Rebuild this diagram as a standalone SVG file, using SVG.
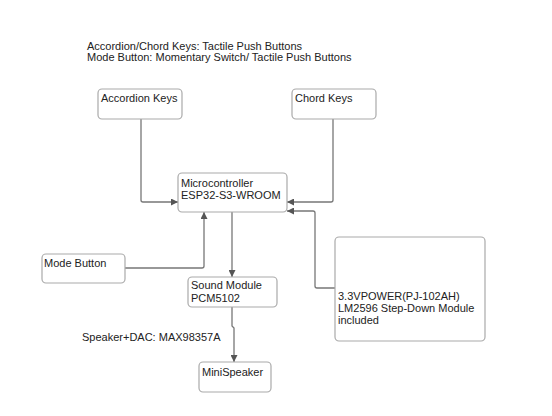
<svg xmlns="http://www.w3.org/2000/svg" width="552" height="416" viewBox="0 0 552 416">
<defs>
<marker id="arr" viewBox="0 0 10 10" refX="10" refY="5" markerWidth="7" markerHeight="7" markerUnits="userSpaceOnUse" orient="auto">
<path d="M0,0 L10,5 L0,10 z" fill="#555"/>
</marker>
<style>
.box{fill:#fff;stroke:#aaa;stroke-width:1.2}
.t{font-family:"Liberation Sans",Arial,sans-serif;font-size:11px;fill:#222}
.c{fill:none;stroke:#777;stroke-width:1.3;marker-end:url(#arr)}
</style>
</defs>
<rect width="552" height="416" fill="#fff"/>
<g id="notes">
<text class="t" x="87" y="50">Accordion/Chord Keys: Tactile Push Buttons</text>
<text class="t" x="87" y="61">Mode Button: Momentary Switch/ Tactile Push Buttons</text>
<text class="t" x="82" y="341">Speaker+DAC: MAX98357A</text>
</g>
<g id="connectors">
<path class="c" d="M141,119 V200 Q141,202 143,202 H178"/>
<path class="c" d="M333,119 V200 Q333,202 331,202 H287"/>
<path class="c" d="M335,288 H317 Q315,288 315,286 V213 Q315,211 313,211 H287"/>
<path class="c" d="M125,268 H202 Q204,268 204,266 V212"/>
<path class="c" d="M232,212 V277"/>
<path class="c" d="M232,307 V326 L234,328 V362"/>
</g>
<g id="accordion-keys">
<rect class="box" x="98" y="89" width="84" height="30" rx="4"/>
<text class="t" x="101" y="102">Accordion Keys</text>
</g>
<g id="chord-keys">
<rect class="box" x="292" y="89" width="84" height="30" rx="4"/>
<text class="t" x="295" y="102">Chord Keys</text>
</g>
<g id="microcontroller">
<rect class="box" x="178" y="173" width="109" height="39" rx="4"/>
<text class="t" x="181" y="187">Microcontroller</text>
<text class="t" x="181" y="199">ESP32-S3-WROOM</text>
</g>
<g id="mode-button">
<rect class="box" x="42" y="254" width="83" height="29" rx="4"/>
<text class="t" x="44" y="267">Mode Button</text>
</g>
<g id="sound-module">
<rect class="box" x="188" y="277" width="89" height="30" rx="4"/>
<text class="t" x="191" y="289">Sound Module</text>
<text class="t" x="191" y="302">PCM5102</text>
</g>
<g id="power">
<rect class="box" x="335" y="237" width="150" height="104" rx="4"/>
<text class="t" x="338" y="300">3.3VPOWER(PJ-102AH)</text>
<text class="t" x="338" y="312">LM2596 Step-Down Module</text>
<text class="t" x="338" y="324">included</text>
</g>
<g id="minispeaker">
<rect class="box" x="199" y="362" width="72" height="30" rx="4"/>
<text class="t" x="202" y="376">MiniSpeaker</text>
</g>
</svg>
